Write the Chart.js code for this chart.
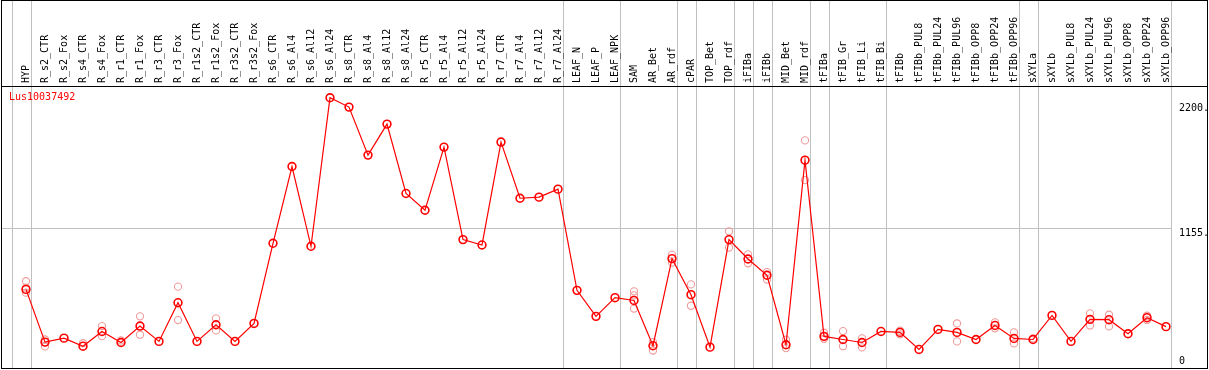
<!DOCTYPE html>
<html>
<head>
<meta charset="utf-8">
<script src="https://cdn.jsdelivr.net/npm/chart.js@4"></script>
<style>
  html, body { margin: 0; padding: 0; background: #fff; }
  canvas { display: block; }
</style>
</head>
<body>
<canvas id="chart" width="1209" height="370"></canvas>
<script>
// Expression profile, one gene across tissues
const geneName = 'Lus10037492';

const categories = [
  'HYP', 'R_s2_CTR', 'R_s2_Fox', 'R_s4_CTR', 'R_s4_Fox', 'R_r1_CTR', 'R_r1_Fox', 'R_r3_CTR', 'R_r3_Fox',
  'R_r1s2_CTR', 'R_r1s2_Fox', 'R_r3s2_CTR', 'R_r3s2_Fox',
  'R_s6_CTR', 'R_s6_Al4', 'R_s6_Al12', 'R_s6_Al24', 'R_s8_CTR', 'R_s8_Al4', 'R_s8_Al12', 'R_s8_Al24',
  'R_r5_CTR', 'R_r5_Al4', 'R_r5_Al12', 'R_r5_Al24', 'R_r7_CTR', 'R_r7_Al4', 'R_r7_Al12', 'R_r7_Al24',
  'LEAF_N', 'LEAF_P', 'LEAF_NPK', 'SAM', 'AR_Bet', 'AR_rdf', 'cPAR', 'TOP_Bet', 'TOP_rdf',
  'iFIBa', 'iFIBb', 'MID_Bet', 'MID_rdf', 'tFIBa', 'tFIB_Gr', 'tFIB_Li', 'tFIB_Bi',
  'tFIBb', 'tFIBb_PUL8', 'tFIBb_PUL24', 'tFIBb_PUL96', 'tFIBb_OPP8', 'tFIBb_OPP24', 'tFIBb_OPP96',
  'sXYLa', 'sXYLb', 'sXYLb_PUL8', 'sXYLb_PUL24', 'sXYLb_PUL96', 'sXYLb_OPP8', 'sXYLb_OPP24', 'sXYLb_OPP96'
];

// mean value per sample
const meanValues = [
  645, 205, 238, 171, 294, 202, 339, 211, 534,
  211, 350, 211, 361,
  1030, 1671, 1005, 2245, 2167, 1766, 2025, 1446,
  1306, 1833, 1061, 1016, 1875, 1406, 1415, 1482,
  637, 420, 576, 553, 175, 902, 601, 163, 1061,
  899, 763, 183, 1724, 253, 227, 202, 294,
  286, 144, 311, 286, 227, 344, 236,
  227, 428, 211, 395, 392, 275, 409, 334
];

// replicates (null = hidden under the mean marker)
const repHigh = [
  713, 227, null, 196, 339, 219, 420, null, 668,
  null, 403, null, null,
  null, null, null, null, null, null, null, null,
  null, null, null, null, null, null, null, null,
  null, null, null, 629, 205, 935, 687, null, 1130,
  938, 790, 225, 1889, 283, 297, 236, null,
  300, null, null, 361, null, 370, 286,
  236, null, null, 445, 434, null, 425, null
];
const repLow = [
  618, 169, null, null, 255, null, 267, null, 389,
  null, 303, null, null,
  null, null, null, null, null, null, null, null,
  null, null, null, null, null, null, null, null,
  null, null, null, 485, 135, 869, 509, null, 994,
  863, 727, 155, 1557, 233, 171, 161, null,
  270, null, null, 211, null, 320, 194,
  null, null, null, 344, 336, null, 390, null
];
const repMid = [
  660, null, null, null, null, null, null, null, null,
  null, null, null, null,
  null, null, null, null, null, null, null, null,
  null, null, null, null, null, null, null, null,
  null, null, null, 595, null, null, null, null, null,
  null, null, null, null, null, null, null, null,
  null, null, null, null, null, null, null,
  null, null, null, null, null, null, null, null
];

const yTicks = [0, 1155, 2200];
const yTickLabels = ['0', '1155.', '2200.'];
const refLine = 1155;

// index of the last sample in each tissue group (-1 = left edge)
const groupEnds = [-1, 0, 28, 31, 34, 35, 37, 38, 39, 41, 42, 45, 52, 53, 60];

Chart.defaults.font.family = 'DejaVu Sans Mono';
Chart.defaults.font.size = 10;
Chart.defaults.font.lineHeight = 1;
Chart.defaults.color = '#000';

const framePlugin = {
  id: 'frame',
  beforeDraw(chart) {
    const { ctx, scales: { x, y } } = chart;
    ctx.save();
    ctx.fillStyle = '#fff';
    ctx.fillRect(0, 0, chart.width, chart.height);
    ctx.fillStyle = '#c0c0c0';
    let lastX = 0;
    groupEnds.forEach(i => {
      const px = Math.round(x.getPixelForValue(i) + 4.5);
      ctx.fillRect(px, 0, 1, chart.height - 2);
      lastX = Math.max(lastX, px);
    });
    const py = Math.round(y.getPixelForValue(refLine));
    ctx.fillRect(1, py, lastX - 1, 1);
    ctx.restore();
  },
  afterDraw(chart) {
    const { ctx, chartArea } = chart;
    const w = chart.width, h = chart.height;
    ctx.save();
    ctx.fillStyle = '#000';
    ctx.fillRect(1, 0, w - 2, 1);
    ctx.fillRect(1, 0, 1, h - 1);
    ctx.fillRect(w - 2, 0, 1, h - 1);
    ctx.fillRect(1, h - 2, w - 2, 1);
    ctx.fillRect(1, Math.round(chartArea.top), w - 2, 1);
    ctx.fillStyle = '#ff0000';
    ctx.font = '10px "DejaVu Sans Mono"';
    ctx.textBaseline = 'middle';
    ctx.fillText(geneName, 9, Math.round(chartArea.top) + 11);
    ctx.restore();
  }
};

const repStyle = {
  type: 'line',
  showLine: false,
  pointStyle: 'circle',
  pointRadius: 3.6,
  pointBorderWidth: 1.1,
  pointBorderColor: '#f09c9c',
  pointBackgroundColor: 'rgba(0,0,0,0)',
};

new Chart(document.getElementById('chart'), {
  type: 'line',
  data: {
    labels: categories,
    datasets: [
      {
        label: geneName,
        data: meanValues,
        borderColor: '#ff0000',
        borderWidth: 1.2,
        pointStyle: 'circle',
        pointRadius: 3.9,
        pointBorderWidth: 1.6,
        pointBorderColor: '#ff0000',
        pointBackgroundColor: 'rgba(0,0,0,0)',
        tension: 0,
      },
      { ...repStyle, label: 'rep1', data: repHigh },
      { ...repStyle, label: 'rep2', data: repLow },
      { ...repStyle, label: 'rep3', data: repMid },
    ],
  },
  options: {
    responsive: false,
    animation: false,
    devicePixelRatio: 1,
    layout: { padding: { left: 16.5, right: 0, top: 0, bottom: 2 } },
    plugins: {
      legend: { display: false },
      tooltip: { enabled: false },
      title: { display: false },
    },
    scales: {
      x: {
        type: 'category',
        position: 'top',
        offset: true,
        grid: { display: false, drawTicks: false },
        border: { display: false },
        // mirror keeps the rotated labels centred on their sample
        ticks: { autoSkip: false, minRotation: 90, maxRotation: 90, mirror: true, padding: -3, color: '#000' },
        afterFit: s => { s.height = 86; s.paddingLeft = 0; s.paddingRight = 0; },
      },
      y: {
        position: 'right',
        min: 19,
        max: 2343,
        grid: { display: false, drawTicks: false },
        border: { display: false },
        afterBuildTicks: s => { s.ticks = yTicks.map(v => ({ value: v })); },
        ticks: {
          padding: 3.5,
          color: '#000',
          callback: v => {
            const lbl = yTickLabels[yTicks.indexOf(v)];
            return v === 0 ? [lbl, ''] : ['', lbl];
          },
        },
        afterFit: s => { s.width = 33.5; s.paddingTop = 0; s.paddingBottom = 0; },
      },
    },
  },
  plugins: [framePlugin],
});
</script>
</body>
</html>
